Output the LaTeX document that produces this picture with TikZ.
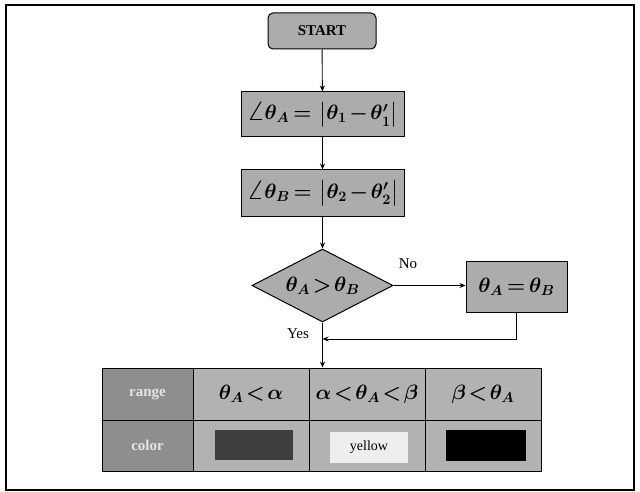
\documentclass[tikz,border=0pt]{standalone}
\usepackage{amsmath}
\usepackage{fontspec}
\setmainfont{Liberation Serif}
\usetikzlibrary{shapes.geometric,arrows.meta}

\definecolor{boxgray}{RGB}{172,172,172}
\definecolor{headgray}{RGB}{142,142,142}
\definecolor{cellgray}{RGB}{178,178,178}
\definecolor{swatchdark}{RGB}{62,62,62}
\definecolor{swatchlight}{RGB}{238,238,238}

% tight relation signs and a larger angle sign
\newcommand{\tlt}{\mskip2mu{<}\mskip2mu}
\newcommand{\bigang}{\mathord{\scalebox{1.35}{$\boldsymbol{\angle}$}}}

\tikzset{
  procbox/.style={draw=black, line width=1pt, fill=boxgray, inner sep=0pt,
    font=\fontsize{20}{24}\selectfont\boldmath},
  startbox/.style={procbox, rounded corners=5pt, font=\fontsize{15}{18}\selectfont\bfseries},
  decision/.style={draw=black, line width=1pt, fill=boxgray, shape=diamond, inner sep=0pt},
  headcell/.style={draw=black, line width=1pt, fill=headgray, inner sep=0pt,
    font=\fontsize{15}{18}\selectfont\bfseries, text=gray!20},
  datacell/.style={draw=black, line width=1pt, fill=cellgray, inner sep=0pt,
    font=\fontsize{20}{24}\selectfont\boldmath},
  swatch/.style={inner sep=0pt, font=\fontsize{14}{16}\selectfont},
  flow/.style={line width=0.9pt, -{Stealth[length=6pt,width=5pt]}},
  lbl/.style={font=\fontsize{15}{18}\selectfont, inner sep=0pt}
}

\begin{document}
\begin{tikzpicture}[x=1pt,y=-1pt]
  \useasboundingbox (0,0) rectangle (640,492);
  % outer frame
  \draw[line width=2pt] (6,5) rectangle (634,490);

  % flowchart blocks
  \node[startbox, minimum width=108pt, minimum height=36pt] (start) at (322,31) {START};
  \node[procbox, minimum width=163pt, minimum height=45pt] (angA) at (322.5,114.5)
    {$\bigang\theta_{A}\mskip3mu{=}\mskip3mu\left|\theta_{1}\mskip2mu{-}\mskip2mu\theta'_{1}\right|$};
  \node[procbox, minimum width=163pt, minimum height=46pt] (angB) at (322.5,193)
    {$\bigang\theta_{B}\mskip3mu{=}\mskip3mu\left|\theta_{2}\mskip2mu{-}\mskip2mu\theta'_{2}\right|$};
  \node[decision, minimum width=141pt, minimum height=73pt,
        label={[font=\fontsize{20}{24}\selectfont\boldmath]center:$\theta_{A}\mskip2mu{>}\mskip2mu\theta_{B}$}]
        (cmp) at (322.5,285.5) {};
  \node[procbox, minimum width=101pt, minimum height=51pt] (swap) at (516.5,286.5)
    {$\theta_{A}\mskip3mu{=}\mskip3mu\theta_{B}$};

  % colour table
  \node[headcell, minimum width=91pt, minimum height=52pt] (h1) at (147.5,394) {range};
  \node[datacell, minimum width=116pt, minimum height=52pt] (r1) at (251,394) {$\theta_{A}\tlt\alpha$};
  \node[datacell, minimum width=116pt, minimum height=52pt] (r2) at (367,394) {$\alpha\tlt\theta_{A}\tlt\beta$};
  \node[datacell, minimum width=116pt, minimum height=52pt] (r3) at (483,394) {$\beta\tlt\theta_{A}$};
  \node[headcell, minimum width=91pt, minimum height=51pt] (h2) at (147.5,445.5) {color};
  \node[datacell, minimum width=116pt, minimum height=51pt] (c1) at (251,445.5) {\phantom{x}};
  \node[datacell, minimum width=116pt, minimum height=51pt] (c2) at (367,445.5) {\phantom{x}};
  \node[datacell, minimum width=116pt, minimum height=51pt] (c3) at (483,445.5) {\phantom{x}};
  \node[swatch, fill=swatchdark, minimum width=78pt, minimum height=30pt] (s1) at (254,445) {\phantom{x}};
  \node[swatch, fill=swatchlight, minimum width=78pt, minimum height=31pt] (s2) at (369,447.5) {yellow};
  \node[swatch, fill=black, minimum width=80pt, minimum height=31pt] (s3) at (486,445.5) {\phantom{x}};

  % connectors
  \coordinate (merge) at (322.5,339);
  \draw[flow] (start) -- (angA);
  \draw[flow] (angA) -- (angB);
  \draw[flow] (angB) -- (cmp.north);
  \draw[flow] (cmp.east) -- (cmp.east -| swap.west);
  \draw[flow] (cmp.south) -- (cmp.south |- r2.north);
  \draw[flow] (swap.south) |- (merge);

  % branch labels
  \node[lbl] (no) at (408,264) {No};
  \node[lbl] (yes) at (298,334) {Yes};
\end{tikzpicture}
\end{document}
